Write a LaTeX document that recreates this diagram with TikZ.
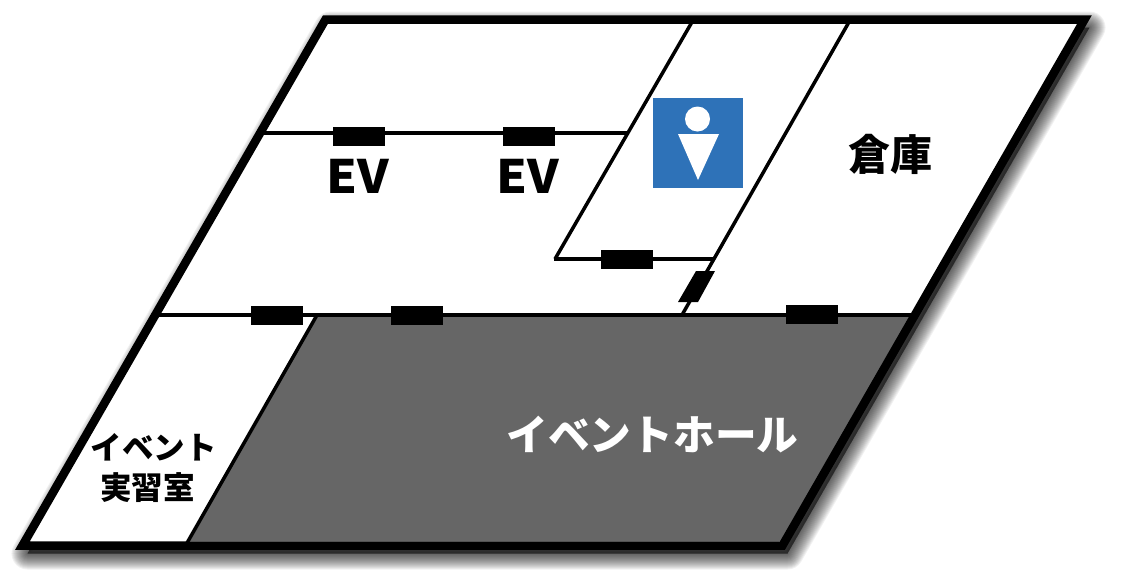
\documentclass[tikz,border=0pt]{standalone}
\usepackage{fontspec}
\setmainfont{Liberation Sans}
\newfontfamily\cjk{Noto Sans CJK JP Black}
\newfontfamily\evfont[FakeStretch=1.07]{Noto Sans CJK JP Black}
\usetikzlibrary{positioning}
\definecolor{hallgray}{HTML}{666666}
\definecolor{toiletblue}{HTML}{2E72B8}
\tikzstyle{wall}=[draw,line width=3.5pt]
\tikzstyle{outerwall}=[draw,line width=8.5pt,miter limit=10]
\tikzstyle{door}=[rectangle,fill=black,minimum width=52pt,minimum height=19pt,inner sep=0pt]
\tikzstyle{evlabel}=[font=\evfont\fontsize{46pt}{46pt}\selectfont,inner sep=0pt]
\tikzstyle{roomlabel}=[font=\cjk\fontsize{42pt}{42pt}\selectfont,inner sep=0pt,align=center]

\begin{document}
\begin{tikzpicture}[x=1pt,y=-1pt]
    \useasboundingbox (0,0) rectangle (1123,579);

    % First the corners of the floor
    \coordinate (TL) at (325.5,19.5);
    \coordinate (TR) at (1084.5,19.5);
    \coordinate (BR) at (782.5,545.5);
    \coordinate (BL) at (22.5,545.5);

    % Soft shadow
    \foreach \wd in {2,4,...,32}
        \draw[line width=\wd pt,black,opacity=0.055,fill=black,line join=round] ([xshift=5pt,yshift=-8pt]TL) -- ([xshift=5pt,yshift=-8pt]TR) -- ([xshift=5pt,yshift=-8pt]BR) -- ([xshift=5pt,yshift=-8pt]BL) -- cycle;
    \fill[white] (TL) -- (TR) -- (BR) -- (BL) -- cycle;

    % Event hall
    \coordinate (H1) at (317,315);
    \coordinate (H2) at (912,315);
    \coordinate (H3) at (782.5,541);
    \coordinate (H4) at (187,541);
    \fill[hallgray] (H1) -- (H2) -- (H3) -- (H4) -- cycle;

    % Inner walls
    \foreach \source/\dest in {{(260,133)/(627,133)}, {(692,22)/(555,259)}, {(553.5,259)/(713,259)}, {(849,22)/(682,315)}, {(158,315)/(914,315)}, {(317,315)/(187,543)}}
        \path[wall] \source -- \dest;

    \path[outerwall] (TL) -- (TR) -- (BR) -- (BL) -- cycle;

    % Doors
    \foreach \pos/\name in {{(359,136)/D1}, {(529,136)/D2}, {(277,315.5)/D3}, {(417,315.5)/D4}, {(812,314.5)/D5}, {(627,259)/D6}}
        \node[door] (\name) at \pos {};
    \fill (696,271) -- (715,271) -- (698,302) -- (678,302) -- cycle;

    % Toilet sign
    \node[rectangle,fill=toiletblue,minimum size=90pt,inner sep=0pt] (sign) at (698.3,143) {};
    \node[circle,fill=white,minimum size=25pt,inner sep=0pt] (head) at (697.5,119) {};
    \fill[white] (678,134) -- (719,134) -- (698,180) -- cycle;

    % Labels
    \node[evlabel] (ev1) at (358,176) {EV};
    \node[evlabel] (ev2) at (528,176) {EV};
    \node[roomlabel] (store) at (890.5,154) {倉庫};
    \node[roomlabel,font=\cjk\fontsize{41.7pt}{42pt}\selectfont,text=white] (hall) at (652.5,435) {イベントホール};
    \node[roomlabel,font=\cjk\fontsize{31.5pt}{32pt}\selectfont] (lab1) at (153.5,447) {イベント};
    \node[roomlabel,font=\cjk\fontsize{31.5pt}{32pt}\selectfont] (lab2) at (147.5,488) {実習室};
\end{tikzpicture}
\end{document}
